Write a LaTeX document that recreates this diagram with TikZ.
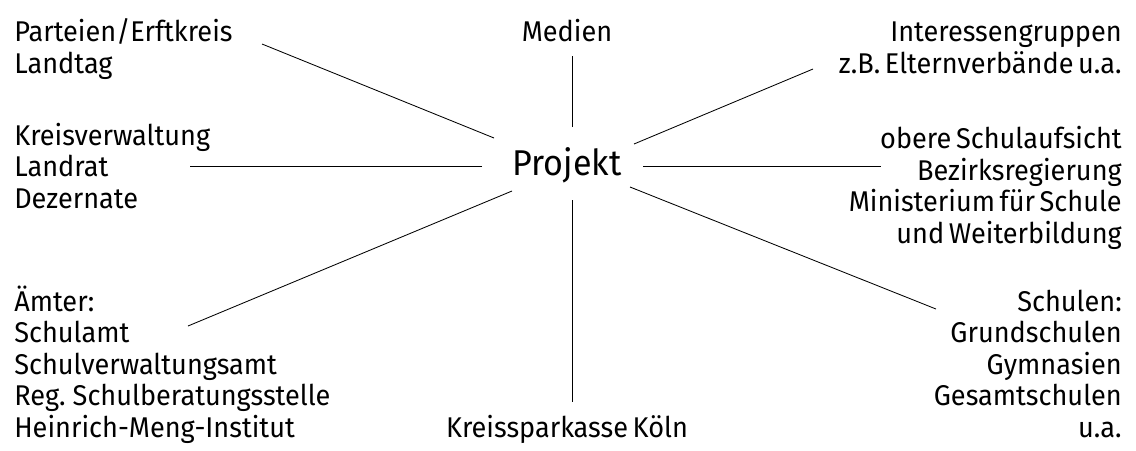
\documentclass[tikz,border=0pt]{standalone}
\usepackage{fontspec}
\setmainfont{Fira Sans}[FakeStretch=0.95,WordSpace=0.65]
\tikzset{
 lbl/.style={inner sep=0pt, font=\fontsize{20.3}{22.4}\selectfont},
 link/.style={line width=0.6pt}
}
\begin{document}
\begin{tikzpicture}[x=0.025cm,y=-0.025cm]
 \useasboundingbox (0,0) rectangle (1136,450);

 \node[lbl,font=\fontsize{25.5}{28}\selectfont,anchor=base] (projekt) at (567,175) {Projekt};

 % base = Grundlinie der letzten Zeile
 \node[lbl,align=left,anchor=base west] (parteien) at (14,73) {Parteien/Erftkreis\\Landtag};
 \node[lbl,anchor=base] (medien) at (567,41) {Medien};
 \node[lbl,align=right,anchor=base east] (interessen) at (1122,73) {Interessengruppen\\z.B. Elternverbände u.a.};
 \node[lbl,align=left,anchor=base west] (kreis) at (14,208) {Kreisverwaltung\\Landrat\\Dezernate};
 \node[lbl,align=right,anchor=base east] (aufsicht) at (1122,243) {obere Schulaufsicht\\Bezirksregierung\\Ministerium für Schule\\und Weiterbildung};
 \node[lbl,align=left,anchor=base west] (aemter) at (14,437) {Ämter:\\Schulamt\\Schulverwaltungsamt\\Reg. Schulberatungsstelle\\Heinrich-Meng-Institut};
 \node[lbl,anchor=base] (sparkasse) at (567,437) {Kreissparkasse Köln};
 \node[lbl,align=right,anchor=base east] (schulen) at (1122,437) {Schulen:\\Grundschulen\\Gymnasien\\Gesamtschulen\\u.a.};

 % Enden der Verbindungen
 \coordinate (p1) at (494,138); \coordinate (q1) at (262,44);
 \coordinate (p2) at (572,127); \coordinate (q2) at (572,56);
 \coordinate (p3) at (634,144); \coordinate (q3) at (813,69);
 \coordinate (p4) at (482,166); \coordinate (q4) at (190,166);
 \coordinate (p5) at (643,166); \coordinate (q5) at (881,166);
 \coordinate (p6) at (512,191); \coordinate (q6) at (188,326);
 \coordinate (p7) at (572,200); \coordinate (q7) at (572,402);
 \coordinate (p8) at (630,187); \coordinate (q8) at (936,309);

 \foreach \i in {1,...,8}
  \draw[link] (p\i) -- (q\i);
\end{tikzpicture}
\end{document}
